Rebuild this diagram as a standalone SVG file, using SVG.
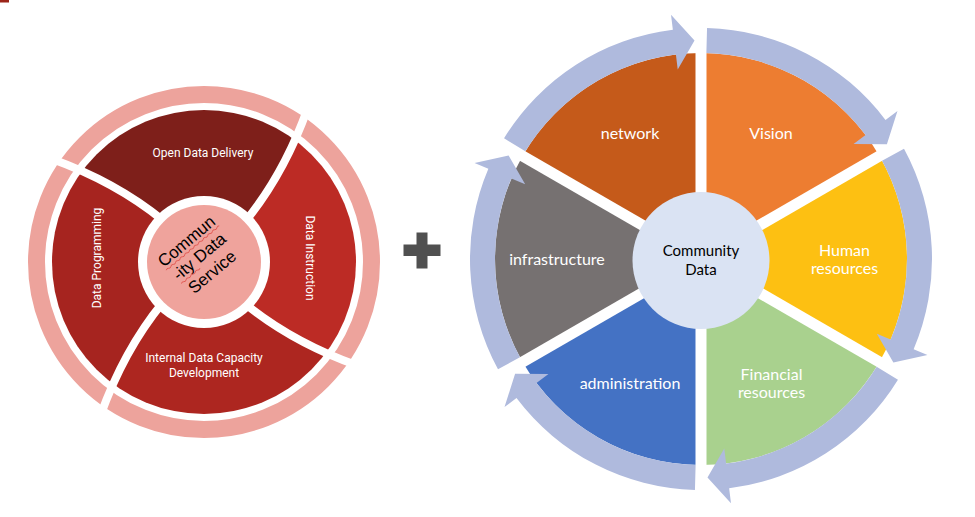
<svg xmlns="http://www.w3.org/2000/svg" xmlns:xlink="http://www.w3.org/1999/xlink" width="975" height="517" viewBox="0 0 975 517">
  <style>
    .lbl-l { font-family: Roboto, "Liberation Sans", sans-serif; font-size: 12px; fill: #ffffff; text-anchor: middle; }
    .lbl-c { font-family: "Liberation Sans", Arial, sans-serif; font-size: 17px; fill: #000000; text-anchor: middle; }
    .lbl-r { font-family: Lato, "Liberation Sans", sans-serif; font-size: 16px; fill: #ffffff; text-anchor: middle; }
    .lbl-hub { font-family: Lato, "Liberation Sans", sans-serif; font-size: 15px; fill: #000000; text-anchor: middle; }
    .sep-l { fill: none; stroke: #ffffff; stroke-width: 8; }
    .sep-r { stroke: #ffffff; stroke-width: 11; }
    .squiggle { fill: none; stroke: #e0504a; stroke-width: 0.8; }
    .cycle-arrow { fill: #afbadd; }
  </style>
  <defs>
    <!-- curved divider of the service wheel (local coords, wheel centre at 0,0) -->
    <path id="divider" d="M -40.7 -41.4 Q -88.2 -80.2 -153.4 -103.5"/>
    <!-- one quarter of the service wheel, bounded by two dividers -->
    <path id="quarter" d="M 0 0 L -40.7 -41.4 Q -88.2 -80.2 -153.4 -103.5 A 185 185 0 0 1 103.5 -153.4 Q 80.2 -88.2 41.4 -40.7 Z"/>
    <clipPath id="wheelClip">
      <circle cx="0" cy="0" r="152"/>
    </clipPath>
    <!-- one sixth of the capacity wheel -->
    <path id="wedge" d="M 0 0 L 0 -206 A 206 206 0 0 1 178.40 -103 Z"/>
    <!-- curved arrow covering one sixth of the outer band -->
    <path id="arc-arrow" d="M 6.05 -230.92 A 231 231 0 0 1 184.49 -139.02 L 196.47 -148.05 L 185.90 -114.82 L 152.54 -114.95 L 164.52 -123.97 A 206 206 0 0 0 5.39 -205.93 Z"/>
  </defs>

  <rect width="975" height="517" fill="#ffffff"/>
  <rect x="0" y="0" width="9" height="2.5" fill="#9c2519"/>

  <!-- ============ Community Data Service wheel ============ -->
  <g id="service-wheel" transform="translate(204,262)">
    <circle cx="0" cy="0" r="167.5" fill="none" stroke="#eda39c" stroke-width="17"/>
    <g clip-path="url(#wheelClip)">
      <use xlink:href="#quarter" fill="#7e1f1a"/>
      <use xlink:href="#quarter" fill="#bc2b25" transform="rotate(90)"/>
      <use xlink:href="#quarter" fill="#ad2620" transform="rotate(180)"/>
      <use xlink:href="#quarter" fill="#a6241f" transform="rotate(270)"/>
    </g>
    <use xlink:href="#divider" class="sep-l"/>
    <use xlink:href="#divider" class="sep-l" transform="rotate(90)"/>
    <use xlink:href="#divider" class="sep-l" transform="rotate(180)"/>
    <use xlink:href="#divider" class="sep-l" transform="rotate(270)"/>
    <circle cx="0" cy="0" r="66" fill="#ffffff"/>
  </g>

  <g id="open-data-delivery">
    <text class="lbl-l" x="203" y="157">Open Data Delivery</text>
  </g>
  <g id="data-instruction">
    <text class="lbl-l" transform="translate(306,258) rotate(90)">Data Instruction</text>
  </g>
  <g id="internal-data-capacity">
    <text class="lbl-l" x="204" y="362">Internal Data Capacity</text>
    <text class="lbl-l" x="204" y="377">Development</text>
  </g>
  <g id="data-programming">
    <text class="lbl-l" transform="translate(101,258) rotate(-90)">Data Programming</text>
  </g>

  <g id="community-data-service">
    <circle cx="204" cy="262" r="57" fill="#efa39c"/>
    <g transform="translate(203,261) rotate(-40)">
      <text class="lbl-c" x="0" y="-20">Commun</text>
      <text class="lbl-c" x="0" y="0">-ity Data</text>
      <text class="lbl-c" x="0" y="20">Service</text>
      <path class="squiggle" d="M -34 -16.5 q 1.5 -1.5 3 0 t 3 0 t 3 0 t 3 0 t 3 0 t 3 0 t 3 0 t 3 0 t 3 0 t 3 0 t 3 0 t 3 0 t 3 0 t 3 0 t 3 0 t 3 0 t 3 0 t 3 0 t 3 0 t 3 0 t 3 0 t 3 0 t 3 0"/>
      <path class="squiggle" d="M -31 3.5 q 1.5 -1.5 3 0 t 3 0 t 3 0 t 3 0 t 3 0 t 3 0 t 3 0 t 3 0"/>
    </g>
  </g>

  <!-- plus sign -->
  <g id="plus">
    <rect x="416.5" y="232.5" width="11" height="36" fill="#505050"/>
    <rect x="403.5" y="244.5" width="37" height="11.5" fill="#505050"/>
  </g>

  <!-- ============ Community Data capacity wheel ============ -->
  <g id="capacity-wheel" transform="translate(701,259)">
    <use xlink:href="#wedge" fill="#c55a1a" transform="rotate(-60)"/>
    <use xlink:href="#wedge" fill="#ed7d31"/>
    <use xlink:href="#wedge" fill="#fdc012" transform="rotate(60)"/>
    <use xlink:href="#wedge" fill="#a9d18e" transform="rotate(120)"/>
    <use xlink:href="#wedge" fill="#4472c4" transform="rotate(180)"/>
    <use xlink:href="#wedge" fill="#767171" transform="rotate(240)"/>
  </g>

  <g id="connectors" transform="translate(701,259)">
    <g id="dividers">
      <line class="sep-r" x1="0" y1="0" x2="0" y2="-210"/>
      <line class="sep-r" x1="0" y1="0" x2="0" y2="-210" transform="rotate(60)"/>
      <line class="sep-r" x1="0" y1="0" x2="0" y2="-210" transform="rotate(120)"/>
      <line class="sep-r" x1="0" y1="0" x2="0" y2="-210" transform="rotate(180)"/>
      <line class="sep-r" x1="0" y1="0" x2="0" y2="-210" transform="rotate(240)"/>
      <line class="sep-r" x1="0" y1="0" x2="0" y2="-210" transform="rotate(300)"/>
    </g>
    <g id="cycle-arrows">
      <use xlink:href="#arc-arrow" class="cycle-arrow" transform="rotate(-60)"/>
      <use xlink:href="#arc-arrow" class="cycle-arrow"/>
      <use xlink:href="#arc-arrow" class="cycle-arrow" transform="rotate(60)"/>
      <use xlink:href="#arc-arrow" class="cycle-arrow" transform="rotate(120)"/>
      <use xlink:href="#arc-arrow" class="cycle-arrow" transform="rotate(180)"/>
      <use xlink:href="#arc-arrow" class="cycle-arrow" transform="rotate(240)"/>
    </g>
  </g>

  <g id="network"><text class="lbl-r" x="630" y="139">network</text></g>
  <g id="vision"><text class="lbl-r" x="771" y="139">Vision</text></g>
  <g id="human-resources">
    <text class="lbl-r" x="844.5" y="256">Human</text>
    <text class="lbl-r" x="844.5" y="274">resources</text>
  </g>
  <g id="financial-resources">
    <text class="lbl-r" x="771.5" y="380">Financial</text>
    <text class="lbl-r" x="771.5" y="398">resources</text>
  </g>
  <g id="administration"><text class="lbl-r" x="630" y="388.5">administration</text></g>
  <g id="infrastructure"><text class="lbl-r" x="557" y="264.5">infrastructure</text></g>

  <g id="community-data">
    <circle cx="701" cy="260.5" r="68.5" fill="#dae3f3"/>
    <text class="lbl-hub" x="701" y="256">Community</text>
    <text class="lbl-hub" x="701" y="274.5">Data</text>
  </g>
</svg>
